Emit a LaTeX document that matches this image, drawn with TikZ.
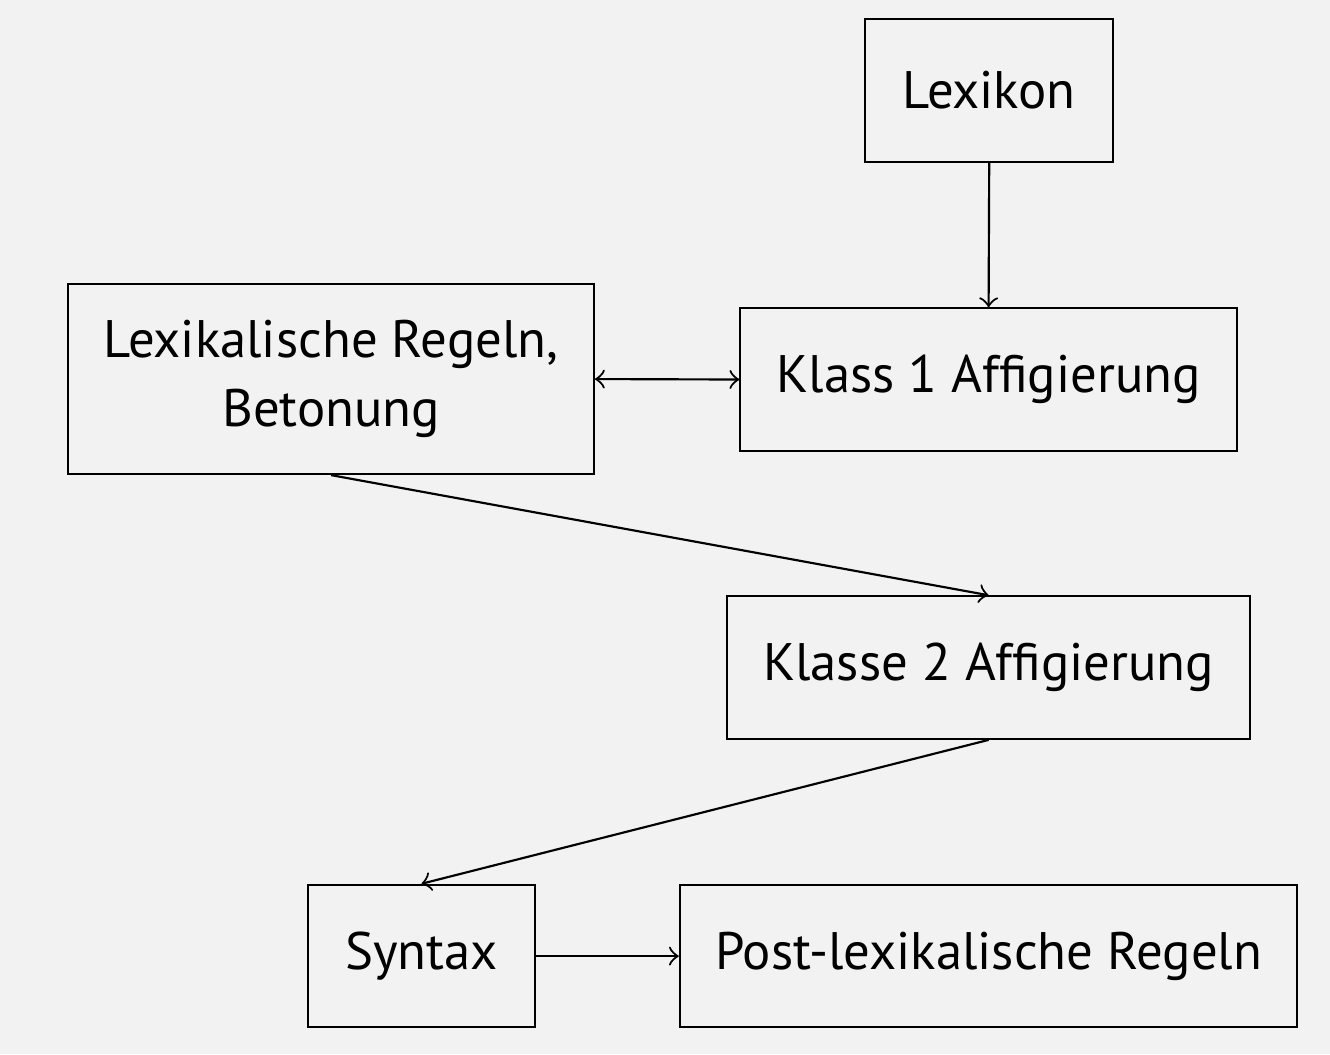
\documentclass[tikz,border=0pt]{standalone}
\usepackage{fontspec}
\setmainfont{PT Sans}
\definecolor{bggray}{HTML}{F2F2F2}
\tikzset{
    stage/.style={draw, thin, align=center, inner sep=0pt, font=\fontsize{9.8}{12.8}\selectfont},
}
\begin{document}
\begin{tikzpicture}
    % background and fixed frame
    \fill[bggray] (0,0) rectangle (8.68,-6.88);
    \useasboundingbox (0,0) rectangle (8.68,-6.88);
    % stages
    \node[stage, minimum width=1.62cm, minimum height=0.93cm] (lexikon) at (6.456,-0.591) {Lexikon};
    \node[stage, minimum width=3.43cm, minimum height=1.24cm] (lexregeln) at (2.161,-2.474) {Lexikalische Regeln,\\Betonung};
    \node[stage, minimum width=3.24cm, minimum height=0.93cm] (klass1) at (6.452,-2.477) {Klass 1 Affigierung};
    \node[stage, minimum width=3.41cm, minimum height=0.93cm] (klasse2) at (6.452,-4.357) {Klasse 2 Affigierung};
    \node[stage, minimum width=1.48cm, minimum height=0.93cm] (syntax) at (2.751,-6.240) {Syntax};
    \node[stage, minimum width=4.03cm, minimum height=0.93cm] (postlex) at (6.452,-6.240) {Post-lexikalische Regeln};
    % arrows
    \draw[->] (lexikon.south) -- (klass1.north);
    \draw[<->] (lexregeln.east) -- (klass1.west);
    \draw[->] (lexregeln.south) -- (klasse2.north);
    \draw[->] (klasse2.south) -- (syntax.north);
    \draw[->] (syntax.east) -- (postlex.west);
\end{tikzpicture}
\end{document}
